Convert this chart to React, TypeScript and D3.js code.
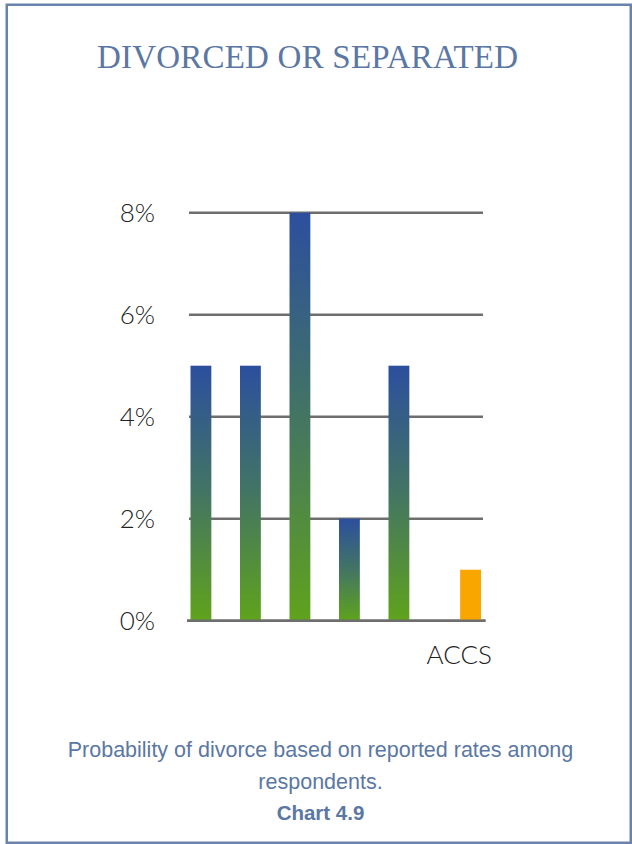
import React from "react";
import * as d3 from "d3";

const categories = ["c1", "c2", "c3", "c4", "c5", "ACCS"];
const categoryLabels = ["", "", "", "", "", "ACCS"];
const seriesNames = ["Respondents", "ACCS"];
const respondentValues = [5, 5, 8, 2, 5, 0];
const accsValues = [0, 0, 0, 0, 0, 1];
const yTicks = [0, 2, 4, 6, 8];
const titleText = "DIVORCED OR SEPARATED";
const captionLines = ["Probability of divorce based on reported rates among", "respondents."];
const chartLabel = "Chart 4.9";

const W = 632;
const H = 844;

export default function App() {
  const x0 = d3.scaleBand<string>().domain(categories).range([187, 484]).padding(0);
  const x1 = d3
    .scaleBand<string>()
    .domain(seriesNames)
    .range([3.5, x0.bandwidth() - 3])
    .paddingInner(0.06);
  const y = d3.scaleLinear().domain([0, 8]).range([620.7, 212.7]);

  const blue = "#5b77a3";
  const series = [respondentValues, accsValues];

  return (
    <svg
      width={W}
      height={H}
      style={{ position: "absolute", left: 0, top: 0, background: "#fff" }}
    >
      <defs>
        <linearGradient id="barGrad" x1="0" y1="0" x2="0" y2="1">
          <stop offset="0%" stopColor="#2c4f9e" />
          <stop offset="50%" stopColor="#437563" />
          <stop offset="100%" stopColor="#5fa31c" />
        </linearGradient>
      </defs>
      <rect x={6.75} y={4.75} width={624} height={838} fill="none" stroke="#6983ad" strokeWidth={2.5} />

      <text
        x={307.5}
        y={68}
        textAnchor="middle"
        fontFamily="'Liberation Serif', 'DejaVu Serif', serif"
        fontSize={33}
        fill={blue}
        textLength={421}
        lengthAdjust="spacing"
      >
        {titleText}
      </text>

      {yTicks.map((t) => (
        <g key={t}>
          <line
            x1={t === 0 ? 187 : 189}
            x2={t === 0 ? 485.5 : 483}
            y1={y(t)}
            y2={y(t)}
            stroke="#6e6e6e"
            strokeWidth={2.5}
          />
          <text
            x={155}
            y={y(t)}
            dy="0.36em"
            textAnchor="end"
            fontFamily="Lato, 'Noto Sans', sans-serif"
            fontWeight={300}
            fontSize={26}
            fill="#222"
          >
            {t}%
          </text>
        </g>
      ))}

      {categories.map((c, i) =>
        series.map((vals, s) => {
          const v = vals[i];
          if (!v) return null;
          const bx = (x0(c) as number) + (x1(seriesNames[s]) as number);
          return (
            <rect
              key={c + s}
              x={bx}
              y={y(v)}
              width={x1.bandwidth()}
              height={y(0) - y(v)}
              fill={s === 0 ? "url(#barGrad)" : "#f9a600"}
            />
          );
        })
      )}

      <line x1={187} x2={485.5} y1={y(0)} y2={y(0)} stroke="#6e6e6e" strokeWidth={2.5} />

      {categories.map((c, i) => (
        <text
          key={"l" + c}
          x={(x0(c) as number) + x0.bandwidth() / 2}
          y={663.5}
          textAnchor="middle"
          fontFamily="Lato, 'Noto Sans', sans-serif"
          fontWeight={300}
          fontSize={26}
          fill="#222"
        >
          {categoryLabels[i]}
        </text>
      ))}

      {captionLines.map((l, i) => (
        <text
          key={"cap" + i}
          x={320.5}
          y={757 + i * 32}
          textAnchor="middle"
          fontFamily="'Liberation Sans', Arial, sans-serif"
          fontSize={21.5}
          fill={blue}
        >
          {l}
        </text>
      ))}
      <text
        x={320.5}
        y={820}
        textAnchor="middle"
        fontFamily="'Liberation Sans', Arial, sans-serif"
        fontSize={20.5}
        fontWeight="bold"
        fill={blue}
      >
        {chartLabel}
      </text>
    </svg>
  );
}
